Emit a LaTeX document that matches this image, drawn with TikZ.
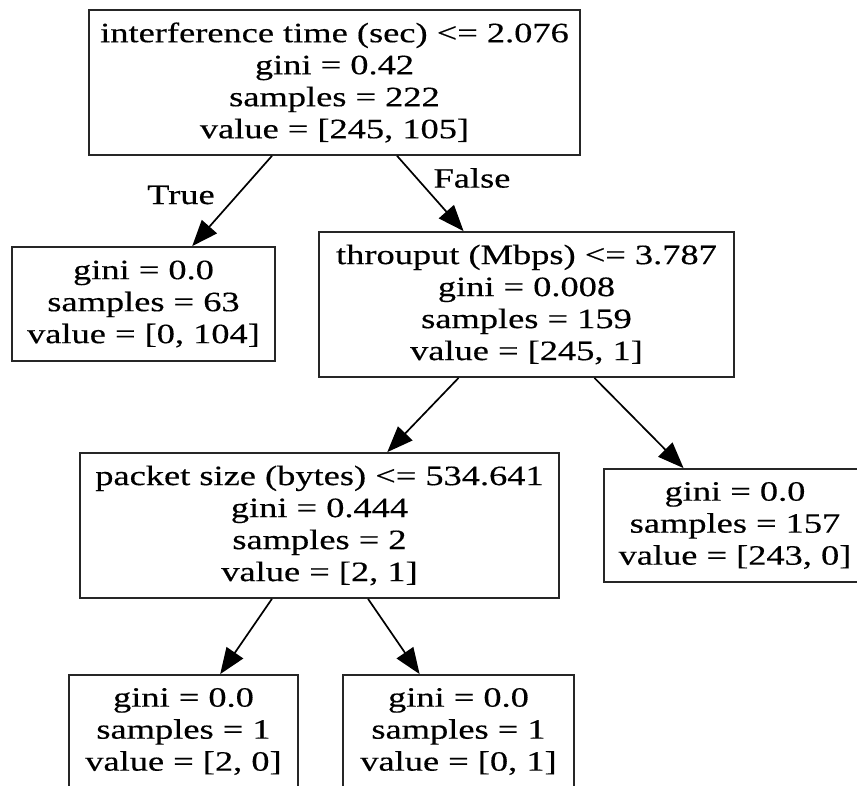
\documentclass[tikz,border=0pt]{standalone}
\usepackage{fontspec}
\setmainfont{Liberation Serif}[FakeStretch=1.3,FakeBold=0.4]
\usetikzlibrary{arrows.meta,calc}
\begin{document}
\begin{tikzpicture}[x=1pt,y=-1pt,
  box/.style={draw=black!85, line width=1.8pt, inner sep=0pt, align=center,
    font=\fontsize{28}{32}\selectfont},
  edge/.style={line width=1.7pt, -{Triangle[length=26pt,width=20pt]}},
  elabel/.style={font=\fontsize{28}{32}\selectfont, inner sep=0pt}]
\useasboundingbox (0,0) rectangle (857,785);
\clip (0,0) rectangle (857,785);
\node[box, minimum width=491pt, minimum height=145pt] (root) at (334.5,82.5)
  {interference time (sec) <= 2.076\\gini = 0.42\\samples = 222\\value = [245, 105]};
\node[box, minimum width=263pt, minimum height=114pt] (leafA) at (143.5,304)
  {gini = 0.0\\samples = 63\\value = [0, 104]};
\node[box, minimum width=415pt, minimum height=145pt] (thr) at (526.5,304.5)
  {throuput (Mbps) <= 3.787\\gini = 0.008\\samples = 159\\value = [245, 1]};
\node[box, minimum width=479pt, minimum height=145pt] (pkt) at (319.5,525.5)
  {packet size (bytes) <= 534.641\\gini = 0.444\\samples = 2\\value = [2, 1]};
\node[box, minimum width=262pt, minimum height=113pt] (leafB) at (735,525.5)
  {gini = 0.0\\samples = 157\\value = [243, 0]};
\node[box, minimum width=229pt, minimum height=113pt] (leafC) at (183.5,731.5)
  {gini = 0.0\\samples = 1\\value = [2, 0]};
\node[box, minimum width=231pt, minimum height=113pt] (leafD) at (458.5,731.5)
  {gini = 0.0\\samples = 1\\value = [0, 1]};
\draw[edge] ($(root.south west)!0.373!(root.south east)$) -- ($(leafA.north west)!0.684!(leafA.north east)$);
\draw[edge] ($(root.south west)!0.627!(root.south east)$) -- ($(thr.north west)!0.349!(thr.north east)$);
\draw[edge] ($(thr.south west)!0.337!(thr.south east)$) -- ($(pkt.north west)!0.641!(pkt.north east)$);
\draw[edge] ($(thr.south west)!0.663!(thr.south east)$) -- ($(leafB.north west)!0.305!(leafB.north east)$);
\draw[edge] ($(pkt.south west)!0.401!(pkt.south east)$) -- ($(leafC.north west)!0.659!(leafC.north east)$);
\draw[edge] ($(pkt.south west)!0.601!(pkt.south east)$) -- ($(leafD.north west)!0.333!(leafD.north east)$);
\node[elabel] (tlab) at (181,195) {True};
\node[elabel] (flab) at (472,178) {False};
\end{tikzpicture}
\end{document}
